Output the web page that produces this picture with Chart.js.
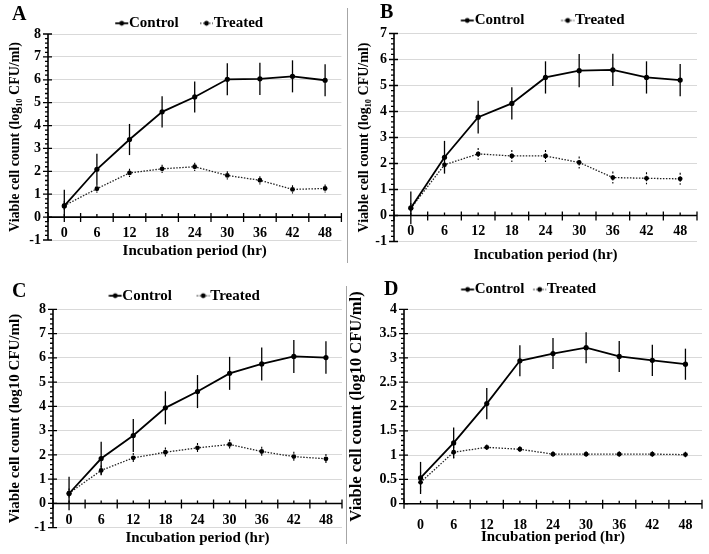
<!DOCTYPE html>
<html>
<head>
<meta charset="utf-8">
<script src="https://cdn.jsdelivr.net/npm/chart.js@4.4.1/dist/chart.umd.min.js"></script>
<style>
  body { margin: 0; background: #fff; }
  #wrap { position: relative; width: 709px; height: 554px; overflow: hidden;
          font-family: 'Liberation Serif', 'Times New Roman', serif; }
  .panel { position: absolute; }
  .letter { position: absolute; font-size: 20px; font-weight: bold; line-height: 20px; color: #000; }
  .sep { position: absolute; width: 1px; background: #a6a6a6; }
</style>
</head>
<body>
<div id="wrap">
  <canvas id="chartA" class="panel" width="346" height="264" style="left:0;top:0"></canvas>
  <canvas id="chartB" class="panel" width="359" height="264" style="left:350px;top:0"></canvas>
  <canvas id="chartC" class="panel" width="346" height="277" style="left:0;top:277px"></canvas>
  <canvas id="chartD" class="panel" width="363" height="277" style="left:346px;top:277px"></canvas>
  <div class="sep" style="left:347px;top:8px;height:255px"></div>
  <div class="sep" style="left:346px;top:286px;height:258px"></div>
  <div class="letter" style="left:12px;top:3px">A</div>
  <div class="letter" style="left:380px;top:1px">B</div>
  <div class="letter" style="left:12px;top:280px">C</div>
  <div class="letter" style="left:384px;top:278px">D</div>
</div>
<script>
// incubation times (hr)
const hours = ["0", "6", "12", "18", "24", "30", "36", "42", "48"];
const seriesNames = ["Control", "Treated"];

// panel A
const controlA = [0.49, 2.09, 3.39, 4.6, 5.25, 6.02, 6.04, 6.15, 5.98];
const controlAErr = [0.7, 0.68, 0.68, 0.68, 0.68, 0.7, 0.7, 0.7, 0.7];
const treatedA = [0.5, 1.24, 1.93, 2.11, 2.2, 1.82, 1.61, 1.21, 1.25];
const treatedAErr = [0.2, 0.18, 0.18, 0.18, 0.18, 0.18, 0.18, 0.18, 0.18];
const yRangeA = [-1, 8, 1];

// panel B
const controlB = [0.29, 2.24, 3.78, 4.31, 5.31, 5.57, 5.6, 5.31, 5.21];
const controlBErr = [0.63, 0.63, 0.63, 0.62, 0.62, 0.64, 0.62, 0.62, 0.62];
const treatedB = [0.28, 1.95, 2.37, 2.29, 2.29, 2.04, 1.46, 1.43, 1.41];
const treatedBErr = [0.2, 0.23, 0.23, 0.23, 0.23, 0.23, 0.23, 0.23, 0.23];
const yRangeB = [-1, 7, 1];

// panel C
const controlC = [0.41, 1.85, 2.8, 3.94, 4.61, 5.36, 5.75, 6.06, 6.01];
const controlCErr = [0.69, 0.69, 0.68, 0.68, 0.68, 0.68, 0.68, 0.68, 0.67];
const treatedC = [0.42, 1.36, 1.88, 2.11, 2.29, 2.43, 2.14, 1.93, 1.84];
const treatedCErr = [0.2, 0.2, 0.2, 0.2, 0.2, 0.2, 0.2, 0.2, 0.2];
const yRangeC = [-1, 8, 1];

// panel D
const controlD = [0.53, 1.25, 2.06, 2.94, 3.09, 3.21, 3.03, 2.95, 2.87];
const controlDErr = [0.33, 0.32, 0.32, 0.32, 0.32, 0.32, 0.32, 0.32, 0.32];
const treatedD = [0.44, 1.06, 1.16, 1.12, 1.02, 1.02, 1.02, 1.02, 1.01];
const treatedDErr = [0.21, 0.12, 0.06, 0.06, 0.06, 0.06, 0.06, 0.06, 0.06];
const yRangeD = [0, 4, 0.5];

Chart.defaults.font.family = "'Liberation Serif', 'Times New Roman', serif";
Chart.defaults.font.weight = "bold";
Chart.defaults.color = "#000";

// legend symbol: short line with a dot, placed right before the text
function legendMark(dotted, boxW) {
  const c = document.createElement("canvas");
  c.width = boxW + 60;
  c.height = 10;
  const g = c.getContext("2d");
  const end = boxW + 36.5;
  g.strokeStyle = "#000";
  g.fillStyle = "#000";
  g.lineWidth = dotted ? 1.2 : 1.8;
  if (dotted) g.setLineDash([1.5, 1.5]);
  g.beginPath();
  g.moveTo(end - 13, 5);
  g.lineTo(end, 5);
  g.stroke();
  g.setLineDash([]);
  g.beginPath();
  g.arc(end - 6.5, 5, 2.4, 0, Math.PI * 2);
  g.fill();
  return c;
}

// excel style axes: y axis with cross + minor ticks, x axis line at 0
const excelAxes = {
  id: "excelAxes",
  beforeDatasetsDraw(chart) {
    const { ctx, chartArea: a, scales } = chart;
    const x = scales.x, y = scales.y;
    const step = chart.options.scales.y.ticks.stepSize;
    const y0 = y.getPixelForValue(0);
    ctx.save();
    ctx.strokeStyle = "#000";
    ctx.lineWidth = 1.6;
    ctx.beginPath();
    ctx.moveTo(a.left, a.top);
    ctx.lineTo(a.left, a.bottom);
    ctx.moveTo(a.left, y0);
    ctx.lineTo(a.right, y0);
    ctx.stroke();

    ctx.lineWidth = 1.3;
    ctx.beginPath();
    const n = Math.round((y.max - y.min) / step * 5);
    for (let i = 0; i <= n; i++) {
      const py = y.getPixelForValue(y.min + i * step / 5);
      if (i % 5 === 0) {
        ctx.moveTo(a.left - 5, py);
        ctx.lineTo(a.left + 4, py);
      } else {
        ctx.moveTo(a.left - 3, py);
        ctx.lineTo(a.left, py);
      }
    }
    const count = x.ticks.length;
    const w = (a.right - a.left) / count;
    for (let k = 0; k <= count; k++) {
      const px = a.left + k * w;
      ctx.moveTo(px, y0 - 4);
      ctx.lineTo(px, y0 + 5);
    }
    for (let k = 0; k < count; k++) {
      const px = x.getPixelForValue(k);
      ctx.moveTo(px, y0 - 3);
      ctx.lineTo(px, y0);
    }
    ctx.stroke();
    ctx.restore();
  },
  afterLayout(chart) {
    const p = chart.options.plugins.excelAxes;
    const lg = chart.legend;
    const h = lg.bottom - lg.top;
    const w = lg.right - lg.left;
    lg.top = p.legendY - 7.5;
    lg.bottom = lg.top + h;
    lg.left = p.legendX - p.boxW + 6.5;
    lg.right = lg.left + w;
  }
};

const errorBars = {
  id: "errorBars",
  afterDatasetsDraw(chart) {
    const { ctx } = chart;
    const y = chart.scales.y;
    chart.data.datasets.forEach((ds, i) => {
      const meta = chart.getDatasetMeta(i);
      ctx.save();
      ctx.strokeStyle = "#000";
      ctx.lineWidth = i === 0 ? 1.3 : 1.1;
      ctx.setLineDash(i === 0 ? [] : [2, 1.5]);
      meta.data.forEach((pt, j) => {
        const v = ds.data[j], e = ds.errors[j];
        ctx.beginPath();
        ctx.moveTo(pt.x, y.getPixelForValue(v + e));
        ctx.lineTo(pt.x, y.getPixelForValue(v - e));
        ctx.stroke();
      });
      ctx.restore();
    });
  }
};

function render_panel(canvasId, control, controlErr, treated, treatedErr, yRange, box) {
  const canvas = document.getElementById(canvasId);
  const boxW = box.legendGap + 6.5;
  const marks = [legendMark(false, boxW), legendMark(true, boxW)];
  new Chart(canvas, {
    type: "line",
    data: {
      labels: hours,
      datasets: [
        {
          label: seriesNames[0],
          data: control,
          errors: controlErr,
          borderColor: "#000",
          backgroundColor: "#000",
          borderWidth: 1.8,
          pointRadius: 2.6,
          pointBorderWidth: 0,
          tension: 0,
        },
        {
          label: seriesNames[1],
          data: treated,
          errors: treatedErr,
          borderColor: "#222",
          backgroundColor: "#000",
          borderWidth: 1.3,
          borderDash: [1.5, 1.5],
          pointRadius: 2.4,
          pointBorderWidth: 0,
          tension: 0,
        },
      ],
    },
    options: {
      responsive: false,
      animation: false,
      events: [],
      layout: {
        padding: { left: 0, bottom: 0, right: box.padRight, top: box.top - 25 },
      },
      scales: {
        x: {
          position: { y: 0 },
          offset: true,
          grid: { display: false, drawTicks: false },
          border: { display: false },
          ticks: { font: { size: 14 }, padding: box.xTickPad, maxRotation: 0 },
        },
        // carries only the axis title, under the plot
        x2: {
          type: "category",
          position: "bottom",
          grid: { display: false, drawTicks: false },
          border: { display: false },
          ticks: { display: false },
          title: { display: true, text: "Incubation period (hr)", font: { size: 15 }, padding: { top: 0, bottom: box.xTitlePad } },
          afterFit: (s) => { s.height = box.xHeight; },
        },
        y: {
          min: yRange[0],
          max: yRange[1],
          ticks: { stepSize: yRange[2], font: { size: 14 }, padding: 7, callback: (v) => String(v) },
          grid: { color: "#d9d9d9", lineWidth: 1, drawTicks: false },
          border: { display: false },
          title: { display: true, text: box.yTitle, font: { size: box.yTitleSize }, padding: { top: box.yTitlePad, bottom: 0 } },
          afterFit: (s) => { s.width = box.left; },
        },
      },
      plugins: {
        tooltip: { enabled: false },
        excelAxes: { legendX: box.legendX, legendY: box.legendY, boxW: boxW },
        legend: {
          position: "top",
          align: "start",
          fullSize: false,
          labels: {
            usePointStyle: true,
            pointStyleWidth: boxW,
            padding: 0,
            font: { size: 15 },
            generateLabels: (chart) =>
              Chart.defaults.plugins.legend.labels.generateLabels(chart).map((item, i) => {
                item.pointStyle = marks[i];
                return item;
              }),
          },
        },
      },
    },
    plugins: [excelAxes, errorBars],
  });
}

render_panel("chartA", controlA, controlAErr, treatedA, treatedAErr, yRangeA, {
  left: 48, top: 34, padRight: 4.6, xHeight: 24, xTickPad: 8.1, xTitlePad: 4,
  yTitle: "Viable cell count (log\u2081\u2080 CFU/ml)", yTitleSize: 14, yTitlePad: 6.6,
  legendX: 115, legendY: 23.3, legendGap: 21,
});
render_panel("chartB", controlB, controlBErr, treatedB, treatedBErr, yRangeB, {
  left: 44, top: 33.5, padRight: 12, xHeight: 22.5, xTickPad: 7.6, xTitlePad: 0,
  yTitle: "Viable cell count (log\u2081\u2080 CFU/ml)", yTitleSize: 14, yTitlePad: 5.6,
  legendX: 110.7, legendY: 20.5, legendGap: 36.7,
});
render_panel("chartC", controlC, controlCErr, treatedC, treatedCErr, yRangeC, {
  left: 53, top: 32.3, padRight: 4, xHeight: 26.3, xTickPad: 8.9, xTitlePad: 7.3,
  yTitle: "Viable cell count (log10 CFU/ml)", yTitleSize: 15, yTitlePad: 6,
  legendX: 108.3, legendY: 18.7, legendGap: 24.3,
});
render_panel("chartD", controlD, controlDErr, treatedD, treatedDErr, yRangeD, {
  left: 58, top: 32.3, padRight: 7, xHeight: 50.3, xTickPad: 12.9, xTitlePad: 8,
  yTitle: "Viable cell count (log10 CFU/ml)", yTitleSize: 16.5, yTitlePad: 1,
  legendX: 114.7, legendY: 12.5, legendGap: 8.3,
});
</script>
</body>
</html>
